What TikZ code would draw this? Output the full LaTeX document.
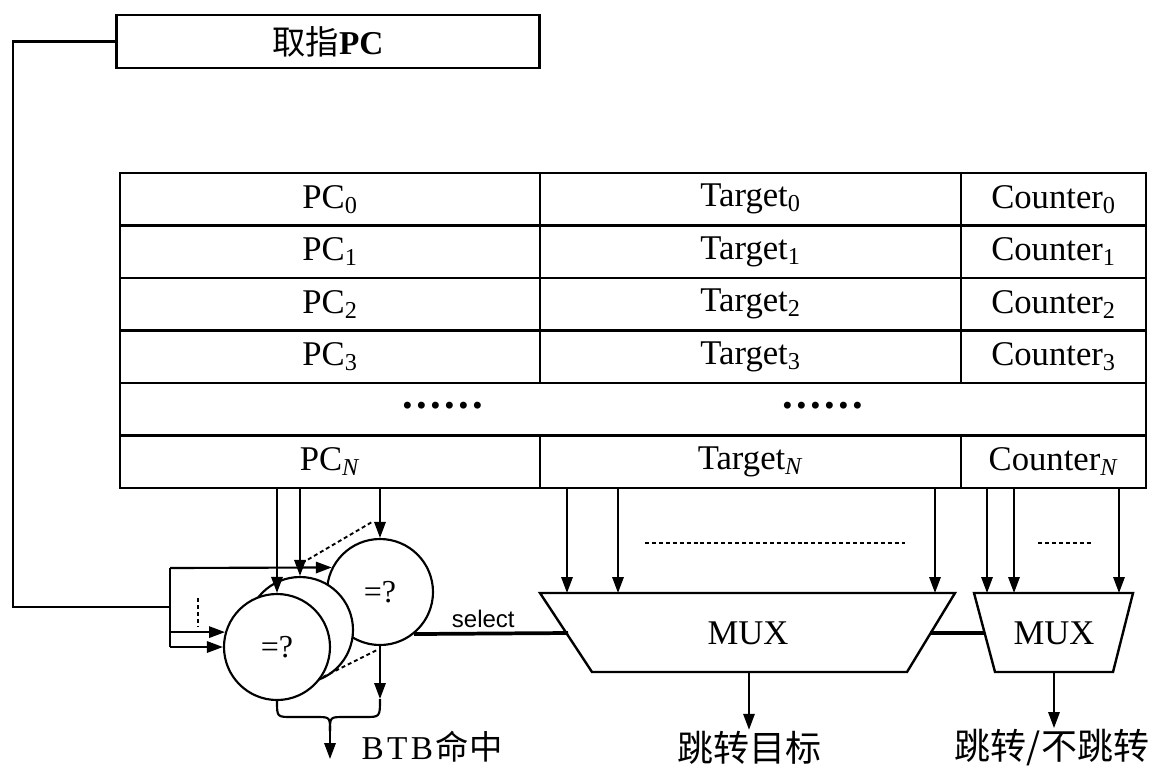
\documentclass[tikz,border=0pt]{standalone}
\usepackage{fontspec}
\setmainfont{Liberation Serif}
\newfontfamily\cjk{Noto Sans CJK SC}
\newfontfamily\sansf{Liberation Sans}
\newfontfamily\dotfont[LetterSpace=8]{Liberation Serif}
\usetikzlibrary{arrows.meta,calc}
\tikzset{
  ln/.style={line width=1.6pt},
  arr/.style={line width=1.6pt,-{Triangle[length=12pt,width=8.5pt]}},
  cell/.style={draw,line width=2.2pt,minimum height=39.4pt,inner sep=0pt,font=\fontsize{26}{30}\selectfont},
  cmp/.style={circle,draw,line width=1.6pt,fill=white,minimum size=79.5pt,inner sep=0pt,font=\fontsize{24}{28}\selectfont},
  dashes/.style={line width=1.6pt,dash pattern=on 3pt off 2.2pt},
  muxbox/.style={draw,line width=1.8pt,fill=white},
  muxtext/.style={font=\fontsize{26}{30}\selectfont,inner sep=0pt},
  lbl/.style={font=\cjk\fontsize{27}{32}\selectfont,inner sep=1pt},
  bus/.style={line width=2.8pt},
  ellips/.style={font=\dotfont\bfseries\fontsize{32}{34}\selectfont,inner sep=0pt,text height=5pt,text depth=0pt},
}
\begin{document}
\begin{tikzpicture}[x=0.75pt,y=-0.75pt]
\useasboundingbox (0,0) rectangle (1155,765);

% fetch PC
\node[draw,line width=1.9pt,minimum width=317pt,minimum height=39.75pt,inner sep=0pt,
      font=\fontsize{25}{28}\selectfont] (pcf) at (328,41.5) {{\cjk 取指}\textbf{PC}};

% table
\foreach \r/\s [count=\i from 0] in {0/0,1/1,2/2,3/3} {
  \pgfmathsetmacro{\yy}{199.25+52.5*\i}
  \node[cell,minimum width=315pt]    (pc\r) at (330,\yy)    {PC\textsubscript{\s}};
  \node[cell,minimum width=315.75pt] (t\r)  at (750.5,\yy)  {Target\textsubscript{\s}};
  \node[cell,minimum width=138.75pt] (c\r)  at (1053.5,\yy) {Counter\textsubscript{\s}};
}
\node[cell,minimum width=769.5pt] (dr) at (633,409.25) {};
\node[ellips] (d1) at (443,405) {......};
\node[ellips] (d2) at (823,405) {......};
\node[cell,minimum width=315pt]    (pcN) at (330,461.75)    {PC\textsubscript{\textit{N}}};
\node[cell,minimum width=315.75pt] (tN)  at (750.5,461.75)  {Target\textsubscript{\textit{N}}};
\node[cell,minimum width=138.75pt] (cN)  at (1053.5,461.75) {Counter\textsubscript{\textit{N}}};

% comparators
\node[cmp] (cmpB) at (380,592) {=?};
\node[cmp] (cmpM) at (300,630) {};
\node[cmp] (cmpF) at (277,647) {=?};

% inputs from PC column
\draw[arr] (pcN.south -| cmpF) -- (cmpF.north);
\draw[arr] (pcN.south -| cmpM) -- (cmpM.north);
\draw[arr] (pcN.south -| cmpB) -- (cmpB.north);
\draw[dashes,line width=1.4pt] (302,563) -- (372,522);
\draw[dashes,line width=1.4pt] (323,677) -- (377,650);

% feedback of fetch PC
\coordinate (lp) at (13,607);
\coordinate (bm) at (170,607);
\coordinate (bt) at (170,568);
\coordinate (bb) at (170,647);
\draw[ln] (pcf.west) -| (lp) -- (bm);
\draw[ln] (bt) -- (bb);
\draw[arr] (bt) -- (cmpB.153);
\draw[arr] (bt |- cmpF.164) -- (cmpF.164);
\draw[arr] (bb) -- (cmpF.west);
\draw[dashes,line width=1.4pt] (198,598) -- (198,627);

% hit output
\coordinate (bo) at (380,699);
\coordinate (bm2) at (330,731);
\coordinate (btb) at (330,759);
\draw[arr] (cmpB.south) -- (bo);
\draw[ln] (cmpF.south) .. controls (277,717) .. (292,717) -- (316,717) .. controls (330,717) .. (bm2);
\draw[ln] (bo) .. controls (380,717) .. (365,717) -- (344,717) .. controls (330,717) .. (bm2);
\draw[arr] (bm2) -- (btb);
\node[font=\fontsize{25}{30}\selectfont,inner sep=0pt] (btbl) at (432,747) {B\hspace{2.5pt}T\hspace{2.5pt}B\hspace{2pt}{\cjk 命中}};

% MUX target
\draw[muxbox] (540,593) -- (955,593) -- (907,672) -- (592,672) -- cycle;
\node[muxtext] (mux1) at (748,633) {MUX};
\coordinate (m1L) at (568,633);
\coordinate (m1R) at (930,633);
\coordinate (m1B) at (749,672);
\foreach \x in {567,618,935} {
  \draw[arr] (\x,488) -- (\x,593);
}
\draw[dashes] (645,543) -- (905,543);

% MUX counter
\draw[muxbox] (974,593) -- (1133,593) -- (1113,672) -- (995,672) -- cycle;
\node[muxtext] (mux2) at (1054,633) {MUX};
\coordinate (m2L) at (984,633);
\coordinate (m2B) at (1054,672);
\foreach \x in {987,1014,1119} {
  \draw[arr] (\x,488) -- (\x,593);
}
\draw[dashes] (1038,543) -- (1092,543);

% select
\draw[bus] (cmpB.-51) -- node[above=0pt,pos=0.45,font=\sansf\fontsize{18}{20}\selectfont] (sel) {select} (m1L);
\draw[bus] (m1R) -- (m2L);

% outputs
\node[lbl] (o1) at (749,748) {跳转目标};
\node[lbl] (o2) at (1052,748) {跳转/不跳转};
\draw[arr] (m1B) -- (m1B |- o1.north);
\draw[arr] (m2B) -- (m2B |- o2.north);
\end{tikzpicture}
\end{document}
